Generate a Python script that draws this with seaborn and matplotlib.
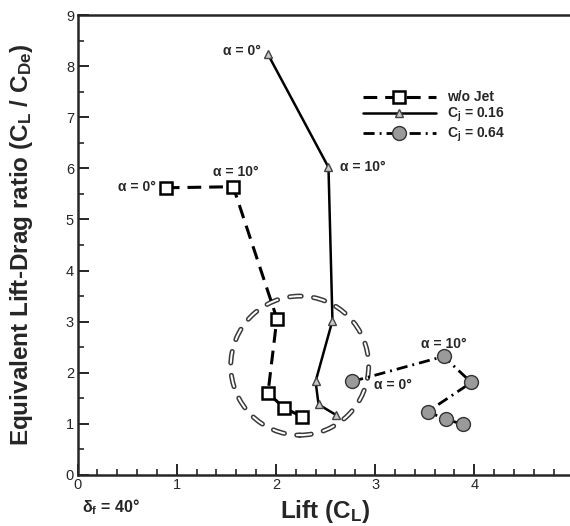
import numpy as np
import pandas as pd
import seaborn as sns
import matplotlib.pyplot as plt
import matplotlib.patheffects as pe
from matplotlib.patches import Ellipse
from matplotlib.ticker import MultipleLocator, FixedLocator

# data (CL, CL/CDe) for alpha = 0..25 deg
wo_jet_cl = [0.89, 1.57, 2.01, 1.92, 2.08, 2.26]
wo_jet_ld = [5.62, 5.64, 3.06, 1.60, 1.32, 1.14]

cj016_cl = [1.92, 2.53, 2.57, 2.40, 2.43, 2.61]
cj016_ld = [8.23, 6.02, 3.02, 1.83, 1.38, 1.17]

cj064_cl = [2.77, 3.69, 3.97, 3.53, 3.71, 3.89]
cj064_ld = [1.83, 2.32, 1.81, 1.24, 1.09, 0.99]

series_names = ["w/o Jet", r"$\mathbf{C_j}$ = 0.16", r"$\mathbf{C_j}$ = 0.64"]
x_ticks = [0, 1, 2, 3, 4]

sns.set_style("ticks")
plt.rcParams["font.family"] = ["Liberation Sans", "DejaVu Sans"]
plt.rcParams["mathtext.fontset"] = "custom"
plt.rcParams["mathtext.rm"] = "Liberation Sans"
plt.rcParams["mathtext.bf"] = "Liberation Sans:bold"
plt.rcParams["mathtext.it"] = "Liberation Sans:italic"

fig = plt.figure(figsize=(5.7, 5.26), dpi=100)
ax = fig.add_axes([77.5 / 570, 51 / 526, 496 / 570, 460 / 526])

df1 = pd.DataFrame({"cl": wo_jet_cl, "ld": wo_jet_ld})
df2 = pd.DataFrame({"cl": cj016_cl, "ld": cj016_ld})
df3 = pd.DataFrame({"cl": cj064_cl, "ld": cj064_ld})

sns.lineplot(data=df1, x="cl", y="ld", sort=False, estimator=None, ax=ax,
             color="black", lw=2.2, marker="s", ms=8,
             mfc="white", mec="black", mew=1.8, label=series_names[0])
ax.lines[-1].set_dashes((4.5, 2.6))
sns.lineplot(data=df2, x="cl", y="ld", sort=False, estimator=None, ax=ax,
             color="black", lw=1.8, marker="^", ms=6,
             mfc="#c8c8c8", mec="#444444", mew=1.0, label=series_names[1])
sns.lineplot(data=df3, x="cl", y="ld", sort=False, estimator=None, ax=ax,
             color="black", lw=2.0, marker="o", ms=10,
             mfc="#9a9a9a", mec="#333333", mew=1.0, label=series_names[2])
ax.lines[-1].set_dashes((4, 1.8, 0.7, 1.8))

# highlighted region
ell = Ellipse((2.24, 2.14), width=1.39, height=2.72, fill=False,
              edgecolor="#444444", lw=3.2, linestyle=(0, (2.6, 2.8)))
ell.set_capstyle("round")
ell.set_path_effects([pe.Stroke(linewidth=3.6, foreground="#3a3a3a"),
                      pe.Stroke(linewidth=1.4, foreground="white")])
ax.add_patch(ell)

lab = dict(fontsize=10, fontweight="bold")
ax.text(1.85, 8.3, "α = 0°", ha="right", va="center", **lab)
ax.text(2.65, 6.02, "α = 10°", ha="left", va="center", **lab)
ax.text(0.79, 5.64, "α = 0°", ha="right", va="center", **lab)
ax.text(1.60, 5.92, "α = 10°", ha="center", va="center", **lab)
ax.text(3.69, 2.57, "α = 10°", ha="center", va="center", **lab)
ax.text(3.18, 1.76, "α = 0°", ha="center", va="center", **lab)

ax.set_xlim(0, 5)
ax.set_ylim(0, 9)
ax.xaxis.set_major_locator(FixedLocator(x_ticks))
ax.xaxis.set_minor_locator(MultipleLocator(0.2))
ax.yaxis.set_major_locator(MultipleLocator(1))
ax.yaxis.set_minor_locator(MultipleLocator(0.5))
ax.tick_params(which="major", direction="in", length=8, width=1.4,
               labelsize=10.5, pad=2.5, top=False, right=False)
ax.tick_params(which="minor", direction="in", length=4, width=1.2,
               top=False, right=False)
for s in ["left", "bottom", "top"]:
    ax.spines[s].set_linewidth(1.8)
ax.spines["right"].set_visible(False)

ax.set_xlabel(r"Lift ($\mathbf{C_L}$)", fontsize=17.5, fontweight="bold")
ax.set_ylabel(r"Equivalent Lift-Drag ratio ($\mathbf{C_L}$ / $\mathbf{C_{De}}$)",
              fontsize=17.5, fontweight="bold")
ax.xaxis.set_label_coords(0.5, -0.05)
ax.yaxis.set_label_coords(-0.085, 0.5)

fig.text(82 / 570, 1 - 507 / 526, r"$\mathbf{\delta_f}$ = 40°",
         fontsize=11.5, fontweight="bold", va="center", ha="left")

ax.legend(loc="upper left", bbox_to_anchor=(0.565, 0.848), frameon=False,
          handlelength=5.2, numpoints=1, prop={"weight": "bold", "size": 10},
          labelspacing=0.12, handletextpad=0.8, borderaxespad=0)

fig.savefig("out.png", dpi=100)
